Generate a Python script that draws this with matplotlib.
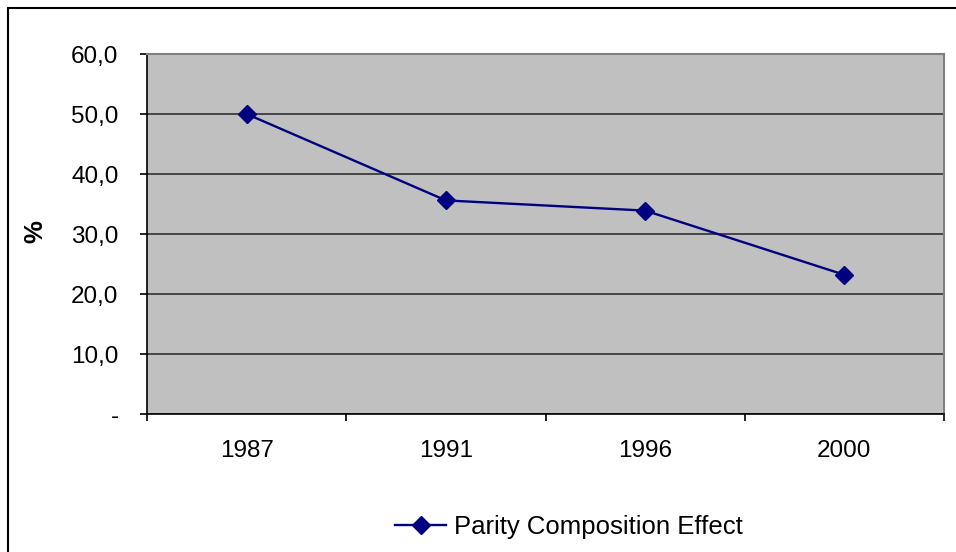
import matplotlib
matplotlib.use("Agg")
import matplotlib.pyplot as plt
from matplotlib.patches import Rectangle
from matplotlib.ticker import FixedLocator, FuncFormatter

plt.rcParams['font.family'] = ['Liberation Sans', 'DejaVu Sans']

years = ["1987", "1991", "1996", "2000"]
parity_effect = [50.0, 35.6, 33.9, 23.2]
series_name = "Parity Composition Effect"
y_ticks = [0, 10, 20, 30, 40, 50, 60]

W, H = 956, 552
fig = plt.figure(figsize=(W / 100, H / 100), dpi=100)
fig.patch.set_facecolor("white")

# outer chart frame (open on the right and bottom)
fig.patches.append(Rectangle((8 / W, -0.05), 1.05, (H - 8) / H + 0.05,
                             transform=fig.transFigure, fill=False,
                             edgecolor="black", linewidth=1.5))

ax = fig.add_axes([147 / W, (H - 414) / H, (944 - 147) / W, (414 - 54) / H])
ax.set_facecolor("#C0C0C0")

x = [i + 0.5 for i in range(len(years))]
line, = ax.plot(x, parity_effect, color="#000080", linewidth=1.7,
                marker="D", markersize=9, markerfacecolor="#000080",
                markeredgecolor="#000080", zorder=3)

ax.set_xlim(0, len(years))
ax.set_ylim(0, 60)

ax.yaxis.set_major_locator(FixedLocator(y_ticks))
ax.yaxis.set_major_formatter(FuncFormatter(
    lambda v, p: "-" if v == 0 else f"{v:.1f}".replace(".", ",")))
ax.grid(axis="y", color="#303030", linewidth=1.2, zorder=1)
ax.set_axisbelow(True)

ax.set_xticks(range(len(years) + 1))
ax.set_xticklabels([])
ax.set_xticks(x, minor=True)
ax.set_xticklabels(years, minor=True)
ax.tick_params(axis="x", which="minor", length=0, pad=19, labelsize=17.5)
ax.tick_params(axis="x", which="major", length=5, width=1.2, direction="out")
ax.tick_params(axis="y", length=5, width=1.2, direction="out", pad=15.5, labelsize=17.5)

for s in ["top", "right"]:
    ax.spines[s].set_color("#808080")
    ax.spines[s].set_linewidth(1.5)
for s in ["left", "bottom"]:
    ax.spines[s].set_color("black")
    ax.spines[s].set_linewidth(1.2)

fig.text(35 / W, 1 - 232 / H, "%", rotation=90, fontsize=18.5, fontweight="bold",
         ha="center", va="center")

fig.legend([line], [series_name], loc="center",
           bbox_to_anchor=(569 / W, 1 - 527 / H), frameon=False,
           fontsize=18.5, handlelength=2.0, handletextpad=0.3,
           borderpad=0, borderaxespad=0)

fig.savefig("out.png", dpi=100)
